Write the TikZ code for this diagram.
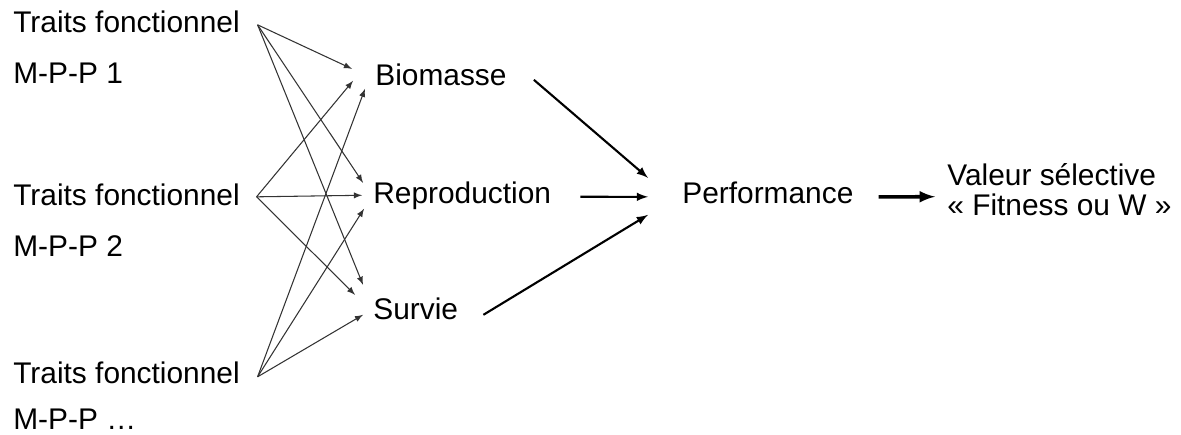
\documentclass[tikz,border=0pt]{standalone}
\usepackage{fontspec}
\setmainfont{Liberation Sans}
\usepackage{tikz}
\usetikzlibrary{calc, arrows}

\begin{document}
\begin{tikzpicture}[
  lab/.style={anchor=base west, inner sep=0pt, font=\fontsize{17}{17}\selectfont},
  thinarrow/.style={-latex, line width=0.6pt, black!80},
  thickarrow/.style={-latex, very thick}]
\useasboundingbox (0,0) rectangle (23.62,8.68);

%%% traits
\node[lab] (t1) at (0.26,8.04) {Traits fonctionnel};
\node[lab] (m1) at (0.26,7.02) {M-P-P 1};
\node[lab] (t2) at (0.26,4.58) {Traits fonctionnel};
\node[lab] (m2) at (0.26,3.56) {M-P-P 2};
\node[lab] (t3) at (0.26,1.02) {Traits fonctionnel};
\node[lab] (m3) at (0.26,0.10) {M-P-P …};

%%% composantes
\node[lab] (bio) at (7.50,6.98) {Biomasse};
\node[lab] (rep) at (7.46,4.62) {Reproduction};
\node[lab] (surv) at (7.46,2.30) {Survie};

\node[lab] (perf) at (13.64,4.62) {Performance};
\node[lab, align=left] (val) at (18.94,4.38) {Valeur sélective\\« Fitness ou W »};

\coordinate (s1) at ([shift={(0.35,-0.07)}]t1.east);
\coordinate (s2) at ([shift={(0.33,-0.05)}]t2.east);
\coordinate (s3) at ([shift={(0.35,-0.09)}]t3.east);

%%% traits -> composantes
\draw[thinarrow] (s1) -- ([shift={(-0.46,0.11)}]bio.west);
\draw[thinarrow] (s2) -- ([shift={(-0.44,-0.13)}]bio.west);
\draw[thinarrow] (s3) -- ([shift={(-0.20,-0.29)}]bio.west);

\draw[thinarrow] (s1) -- ([shift={(-0.20,0.25)}]rep.west);
\draw[thinarrow] (s2) -- ([shift={(-0.22,0)}]rep.west);
\draw[thinarrow] (s3) -- ([shift={(-0.18,-0.27)}]rep.west);

\draw[thinarrow] (s1) -- ([shift={(-0.20,0.47)}]surv.west);
\draw[thinarrow] (s2) -- ([shift={(-0.36,0.27)}]surv.west);
\draw[thinarrow] (s3) -- ([shift={(-0.20,-0.13)}]surv.west);

%%% composantes -> performance
\draw[thickarrow] ([shift={(0.54,-0.11)}]bio.east) -- ([shift={(-0.68,0.29)}]perf.west);
\draw[thickarrow] ([shift={(0.58,-0.03)}]rep.east) -- ([shift={(-0.68,-0.09)}]perf.west);
\draw[thickarrow] ([shift={(0.50,-0.13)}]surv.east) -- ([shift={(-0.68,-0.45)}]perf.west);

\draw[-latex, line width=2pt] ([shift={(0.50,-0.09)}]perf.east) -- ([shift={(-0.24,-0.15)}]val.west);

\end{tikzpicture}
\end{document}
